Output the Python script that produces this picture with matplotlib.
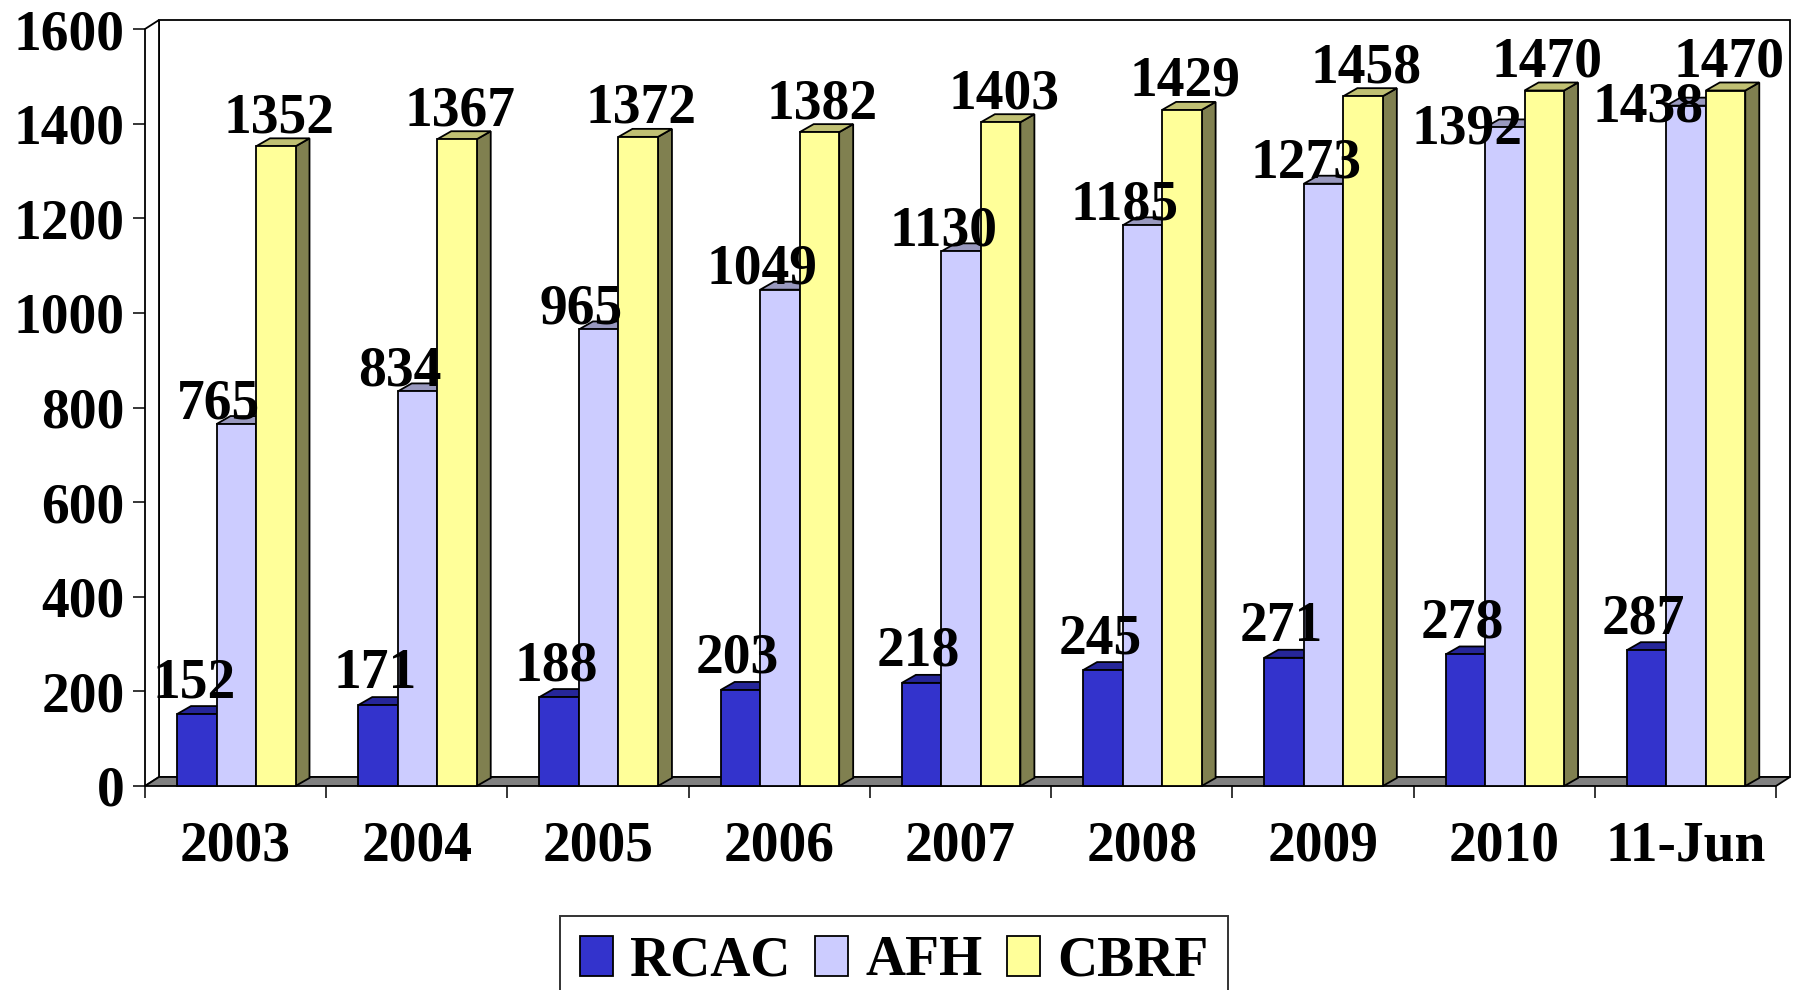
import matplotlib.pyplot as plt
from matplotlib.patches import Polygon, Patch

# data
categories = ['2003', '2004', '2005', '2006', '2007', '2008', '2009', '2010', '11-Jun']
series_names = ['RCAC', 'AFH', 'CBRF']
rcac = [152, 171, 188, 203, 218, 245, 271, 278, 287]
afh = [765, 834, 965, 1049, 1130, 1185, 1273, 1392, 1438]
cbrf = [1352, 1367, 1372, 1382, 1403, 1429, 1458, 1470, 1470]
y_ticks = [0, 200, 400, 600, 800, 1000, 1200, 1400, 1600]

# (front, top, side) shades per series, Excel 2003 style
shades = [('#3333CC', '#262699', '#1A1A66'),
          ('#CCCCFF', '#9999BF', '#666680'),
          ('#FFFF99', '#C0C073', '#808050')]
# label nudge in pixels (dx, dy) per series
nudges = [(-3, 17), (-18, 6), (3, 14)]

plt.rcParams['font.family'] = ['Liberation Serif', 'DejaVu Serif']
plt.rcParams['font.weight'] = 'bold'
FS = 40

W, H = 1812, 990
fig = plt.figure(figsize=(W / 100, H / 100), dpi=100)
# front plane of the plot in pixels
L, R, T, B = 145, 1776, 29, 786
ax = fig.add_axes([L / W, (H - B) / H, (R - L) / W, (B - T) / H])
n = len(categories)
ax.set_xlim(0, n)
ax.set_ylim(0, 1600)

px_x = (R - L) / n          # pixels per category
px_y = (B - T) / 1600.0     # pixels per value unit
wdx, wdy = 14 / px_x, 9 / px_y   # wall depth
bdx, bdy = 14 / px_x, 8 / px_y   # bar depth
bw = 39.5 / px_x
gap = 32 / px_x

def poly(pts, fc, z):
    p = Polygon(pts, closed=True, facecolor=fc, edgecolor='black',
                linewidth=1.3, joinstyle='miter', clip_on=False, zorder=z)
    ax.add_patch(p)

# walls and floor
poly([(wdx, wdy), (n + wdx, wdy), (n + wdx, 1600 + wdy), (wdx, 1600 + wdy)], 'white', 0.5)
poly([(0, 0), (0, 1600), (wdx, 1600 + wdy), (wdx, wdy)], 'white', 0.6)
poly([(0, 0), (n, 0), (n + wdx, wdy), (wdx, wdy)], '#808080', 0.7)

values = [rcac, afh, cbrf]
labels = []
lefts = []
z = 1
for i in range(n):
    row, lrow = [], []
    for s, vals in enumerate(values):
        v = vals[i]
        x0 = i + gap + s * bw
        x1 = x0 + bw
        front, top, side = shades[s]
        poly([(x1, 0), (x1 + bdx, bdy), (x1 + bdx, v + bdy), (x1, v)], side, z)
        poly([(x0, v), (x1, v), (x1 + bdx, v + bdy), (x0 + bdx, v + bdy)], top, z + 0.1)
        poly([(x0, 0), (x1, 0), (x1, v), (x0, v)], front, z + 0.2)
        z += 0.3
        t = ax.annotate(str(v), xy=(x0 + bw / 2, v),
                        xytext=(nudges[s][0] * 0.72, nudges[s][1] * 0.72),
                        textcoords='offset points', ha='center', va='baseline',
                        fontsize=FS, fontweight='bold', zorder=50,
                        annotation_clip=False)
        row.append(t)
        lrow.append(x0)
    labels.append(row)
    lefts.append(lrow)

for sp in ax.spines.values():
    sp.set_visible(False)
ax.set_facecolor('none')

ax.set_yticks(y_ticks)
ax.set_yticklabels([str(t) for t in y_ticks], fontsize=FS, fontweight='bold')
ax.tick_params(axis='y', length=8.6, width=1.1, pad=6, direction='out')

ax.set_xticks(range(n + 1))
ax.set_xticklabels([])
ax.set_xticks([i + 0.5 for i in range(n)], minor=True)
ax.set_xticklabels(categories, minor=True, fontsize=FS, fontweight='bold')
ax.tick_params(axis='x', which='major', length=8.6, width=1.1, direction='out')
ax.tick_params(axis='x', which='minor', length=0, pad=25)

handles = [Patch(facecolor=shades[k][0], edgecolor='black', linewidth=1.3)
           for k in range(3)]
leg = fig.legend(handles, series_names, loc='upper center', ncol=3,
                 bbox_to_anchor=(894 / W, (H - 916) / H), frameon=True,
                 fancybox=False, edgecolor='black', fontsize=FS,
                 handlelength=0.6, handleheight=0.75, handletextpad=0.3,
                 columnspacing=0.45, borderpad=0.35, borderaxespad=0)
leg.get_frame().set_linewidth(1.4)

# a label that runs into its right-hand neighbour is tucked in front of the
# neighbour's bar, a bit below its own bar top (as Excel does)
fig.canvas.draw()
rend = fig.canvas.get_renderer()
for i, row in enumerate(labels):
    for s in (1, 0):
        a = row[s].get_window_extent(rend)
        b = row[s + 1].get_window_extent(rend)
        if a.overlaps(b):
            edge = ax.transData.transform((lefts[i][s + 1], 0))[0] - 2
            ox, oy = row[s].xyann
            row[s].xyann = (ox - (a.x1 - edge) * 0.72, -16 * 0.72)

plt.savefig('out.png', dpi=100)
